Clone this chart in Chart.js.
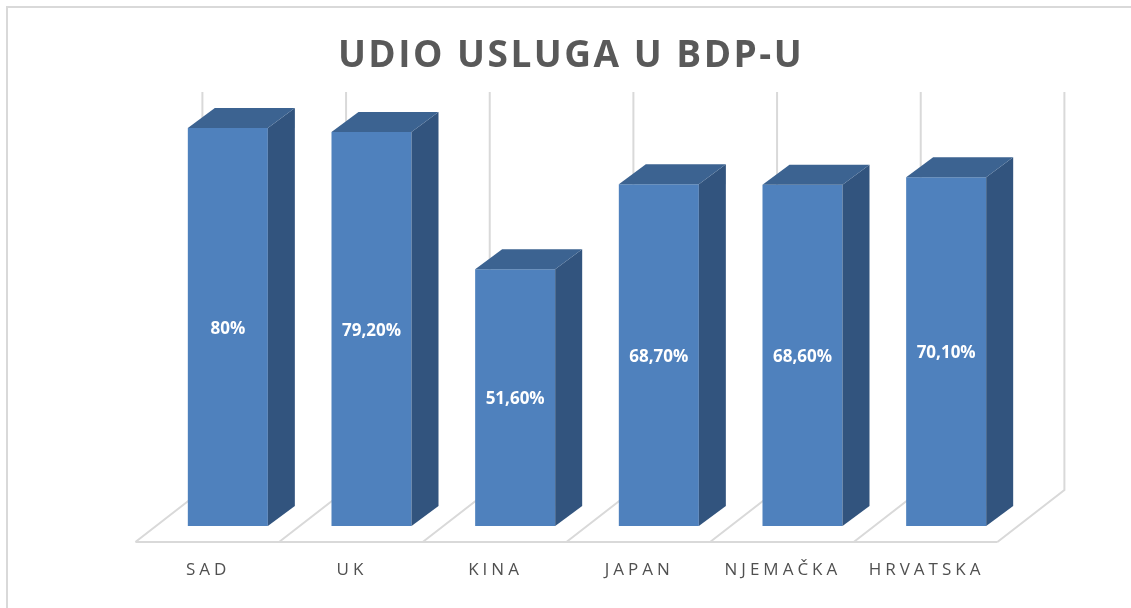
<!DOCTYPE html>
<html lang="hr">
<head>
<meta charset="utf-8">
<title>Udio usluga u BDP-u</title>
<script src="https://cdn.jsdelivr.net/npm/chart.js@4/dist/chart.umd.min.js"></script>
<style>
    html, body { margin: 0; padding: 0; background: #ffffff; }
    #wrap { position: relative; width: 1131px; height: 608px; }
</style>
</head>
<body>
<div id="wrap"><canvas id="grafikon"></canvas></div>
<script>
// Podaci
const kategorije = ['SAD', 'UK', 'KINA', 'JAPAN', 'NJEMAČKA', 'HRVATSKA'];
const vrijednosti = [80, 79.2, 51.6, 68.7, 68.6, 70.1];
const oznake = ['80%', '79,20%', '51,60%', '68,70%', '68,60%', '70,10%'];
const naslov = 'UDIO USLUGA U BDP-U';

// Boje i 3D pomaci
const bojaPrednja = '#4f81bd';
const bojaBocna = '#32547e';
const bojaGornja = '#3c6391';
const bojaMreze = '#d9d9d9';
const bojaTeksta = '#595959';
const dubinaStupca = { dx: 27, dy: -20 };
const prednjiPod = { dx: -20.6, dy: 16 };
const straznjiZid = { dx: 46.4, dy: -36 };

// Plugin: pod, zid, 3D stranice stupaca, oznake i naslov
const efekt3D = {
    id: 'efekt3D',
    beforeDatasetsDraw(chart) {
        const ctx = chart.ctx;
        const y = chart.scales.y;
        const area = chart.chartArea;
        const sirina = (area.right - area.left) / kategorije.length;
        const dno = y.getPixelForValue(0);
        const vrh = y.getPixelForValue(y.max);

        ctx.save();
        // okvir
        ctx.strokeStyle = bojaMreze;
        ctx.lineWidth = 2;
        ctx.beginPath();
        ctx.moveTo(7, 608);
        ctx.lineTo(7, 7);
        ctx.lineTo(1131, 7);
        ctx.stroke();

        ctx.lineWidth = 2;
        ctx.beginPath();
        // prednja linija poda
        ctx.moveTo(area.left + prednjiPod.dx, dno + prednjiPod.dy);
        ctx.lineTo(area.right + prednjiPod.dx, dno + prednjiPod.dy);
        for (let i = 0; i <= kategorije.length; i++) {
            const gx = area.left + i * sirina;
            // dijagonale poda
            ctx.moveTo(gx + prednjiPod.dx, dno + prednjiPod.dy);
            ctx.lineTo(gx + straznjiZid.dx, dno + straznjiZid.dy);
            // okomite linije zida
            ctx.lineTo(gx + straznjiZid.dx, vrh + straznjiZid.dy);
        }
        ctx.stroke();
        ctx.restore();
    },
    afterDatasetsDraw(chart) {
        const ctx = chart.ctx;
        const meta = chart.getDatasetMeta(0);
        const area = chart.chartArea;
        const sirina = (area.right - area.left) / kategorije.length;

        ctx.save();
        meta.data.forEach((bar, i) => {
            const lijevo = bar.x - bar.width / 2;
            const desno = bar.x + bar.width / 2;
            const gore = bar.y;
            const dolje = bar.base;

            // bocna strana
            ctx.fillStyle = bojaBocna;
            ctx.beginPath();
            ctx.moveTo(desno, gore);
            ctx.lineTo(desno + dubinaStupca.dx, gore + dubinaStupca.dy);
            ctx.lineTo(desno + dubinaStupca.dx, dolje + dubinaStupca.dy);
            ctx.lineTo(desno, dolje);
            ctx.closePath();
            ctx.fill();

            // gornja strana
            ctx.fillStyle = bojaGornja;
            ctx.beginPath();
            ctx.moveTo(lijevo, gore);
            ctx.lineTo(lijevo + dubinaStupca.dx, gore + dubinaStupca.dy);
            ctx.lineTo(desno + dubinaStupca.dx, gore + dubinaStupca.dy);
            ctx.lineTo(desno, gore);
            ctx.closePath();
            ctx.fill();

            // oznaka vrijednosti
            ctx.fillStyle = '#ffffff';
            ctx.font = 'bold 17px "Open Sans"';
            ctx.textAlign = 'center';
            ctx.textBaseline = 'middle';
            ctx.fillText(oznake[i], bar.x, (gore + dolje) / 2 + 2);
        });

        // nazivi kategorija s razmakom slova
        ctx.fillStyle = '#505050';
        ctx.font = '17px "Open Sans"';
        ctx.letterSpacing = '4px';
        ctx.textAlign = 'center';
        ctx.textBaseline = 'middle';
        kategorije.forEach((k, i) => {
            const cx = area.left + (i + 0.5) * sirina + prednjiPod.dx;
            ctx.fillText(k, cx + 1, 570);
        });

        // naslov
        ctx.fillStyle = bojaTeksta;
        ctx.font = 'bold 37px "Open Sans"';
        ctx.letterSpacing = '2.5px';
        ctx.fillText(naslov, 571, 56);
        ctx.restore();
    }
};

const ctx = document.getElementById('grafikon').getContext('2d');
const grafikon = new Chart(ctx, {
    type: 'bar',
    data: {
        labels: kategorije,
        datasets: [{
            label: 'Udio usluga',
            data: vrijednosti,
            backgroundColor: bojaPrednja,
            borderWidth: 0,
            categoryPercentage: 1,
            barPercentage: 0.557
        }]
    },
    options: {
        responsive: true,
        maintainAspectRatio: false,
        animation: false,
        layout: {
            padding: { left: 156, right: 113, top: 128, bottom: 82 }
        },
        plugins: {
            legend: { display: false },
            tooltip: { enabled: false },
            title: { display: false }
        },
        scales: {
            x: { display: false },
            y: { display: false, min: 0, max: 80 }
        }
    },
    plugins: [efekt3D]
});
</script>
</body>
</html>
